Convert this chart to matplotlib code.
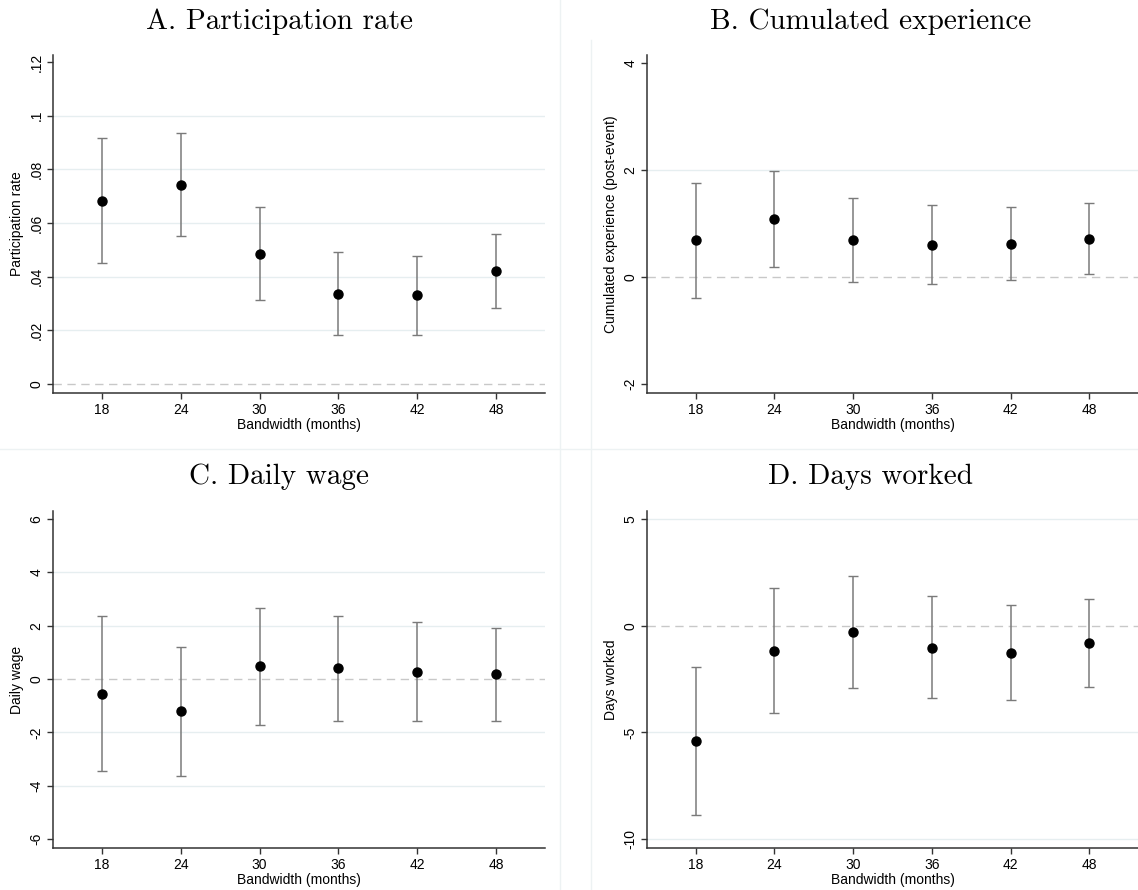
import numpy as np
import matplotlib
matplotlib.use("Agg")
import matplotlib.pyplot as plt
from matplotlib.lines import Line2D

# bandwidth choices (months)
bandwidth = [18, 24, 30, 36, 42, 48]

# A. participation rate
part_est = [0.0683, 0.0743, 0.0484, 0.0336, 0.0330, 0.0421]
part_lo = [0.0450, 0.0550, 0.0312, 0.0181, 0.0184, 0.0284]
part_hi = [0.0916, 0.0935, 0.0658, 0.0493, 0.0476, 0.0558]

# B. cumulated experience
exp_est = [0.685, 1.078, 0.685, 0.604, 0.623, 0.717]
exp_lo = [-0.386, 0.187, -0.100, -0.131, -0.056, 0.062]
exp_hi = [1.757, 1.975, 1.470, 1.340, 1.315, 1.383]

# C. daily wage
wage_est = [-0.55, -1.21, 0.474, 0.41, 0.275, 0.175]
wage_lo = [-3.46, -3.63, -1.72, -1.56, -1.56, -1.56]
wage_hi = [2.36, 1.20, 2.66, 2.38, 2.12, 1.91]

# D. days worked
days_est = [-5.42, -1.17, -0.31, -1.03, -1.26, -0.81]
days_lo = [-8.89, -4.10, -2.94, -3.41, -3.46, -2.87]
days_hi = [-1.93, 1.78, 2.34, 1.37, 0.95, 1.26]

W, H = 1138, 890
fig = plt.figure(figsize=(W / 100, H / 100), dpi=100)
fig.patch.set_facecolor("white")

SANS = ["Liberation Sans", "DejaVu Sans"]
GRID_C = "#e6eef0"
ZERO_C = "#c8c8c8"
BAR_C = "#7a7a7a"


def px_axes(left, top, right, bottom):
    return fig.add_axes([left / W, 1 - bottom / H, (right - left) / W, (bottom - top) / H])


def panel(box, title_xy, est, lo, hi, title, ylabel, yticks, ylabels, ylim, grid_at):
    ax = px_axes(*box)
    for g in grid_at:
        ax.axhline(g, color=GRID_C, lw=1.0, zorder=0)
    ax.axhline(0, color=ZERO_C, lw=1.0, ls=(0, (6, 4)), zorder=1)
    est = np.array(est)
    yerr = [est - np.array(lo), np.array(hi) - est]
    ax.errorbar(bandwidth, est, yerr=yerr, fmt="none", ecolor=BAR_C,
                elinewidth=1.1, capsize=3.5, capthick=1.0, zorder=2)
    ax.plot(bandwidth, est, "o", color="black", ms=6.5, zorder=3)
    ax.set_xlim(14.3, 51.7)
    ax.set_ylim(*ylim)
    ax.set_xticks(bandwidth)
    ax.set_xticklabels([str(b) for b in bandwidth], fontfamily=SANS, fontsize=10)
    ax.set_yticks(yticks)
    ax.set_yticklabels(ylabels, fontfamily=SANS, fontsize=10, rotation=90, va="center")
    ax.set_xlabel("Bandwidth (months)", fontfamily=SANS, fontsize=10, labelpad=1)
    ax.set_ylabel(ylabel, fontfamily=SANS, fontsize=10, labelpad=4)
    for s in ["top", "right"]:
        ax.spines[s].set_visible(False)
    for s in ["left", "bottom"]:
        ax.spines[s].set_color("#333333")
        ax.spines[s].set_linewidth(1.1)
    ax.tick_params(direction="out", length=4, width=1, color="#333333", pad=3)
    tx, ty = title_xy
    fig.text(tx / W, 1 - ty / H, title, fontfamily="cmr10", fontsize=21,
             ha="center", va="center")
    return ax


panel((53, 55, 545, 393), (279, 22), part_est, part_lo, part_hi,
      "A. Participation rate", "Participation rate",
      [0, 0.02, 0.04, 0.06, 0.08, 0.1, 0.12], ["0", ".02", ".04", ".06", ".08", ".1", ".12"],
      (-0.00335, 0.1226), [0.02, 0.04, 0.06, 0.08, 0.1])

panel((647, 55, 1138, 393), (871, 22), exp_est, exp_lo, exp_hi,
      "B. Cumulated experience", "Cumulated experience (post-event)",
      [-2, 0, 2, 4], ["-2", "0", "2", "4"],
      (-2.168, 4.15), [2])

panel((53, 511, 545, 848), (279, 477), wage_est, wage_lo, wage_hi,
      "C. Daily wage", "Daily wage",
      [-6, -4, -2, 0, 2, 4, 6], ["-6", "-4", "-2", "0", "2", "4", "6"],
      (-6.34, 6.3), [-4, -2, 2, 4])

panel((647, 511, 1138, 848), (871, 477), days_est, days_lo, days_hi,
      "D. Days worked", "Days worked",
      [-10, -5, 0, 5], ["-10", "-5", "0", "5"],
      (-10.42, 5.375), [5, -5, -10])

# faint borders between the combined panels
fig.add_artist(Line2D([560 / W, 560 / W], [0, 1], color="#edf2f3", lw=1))
fig.add_artist(Line2D([591 / W, 591 / W], [0, 1 - 40 / H], color="#edf2f3", lw=1))
fig.add_artist(Line2D([0, 1], [1 - 449 / H, 1 - 449 / H], color="#edf2f3", lw=1))

fig.savefig("out.png", dpi=100, facecolor="white")
